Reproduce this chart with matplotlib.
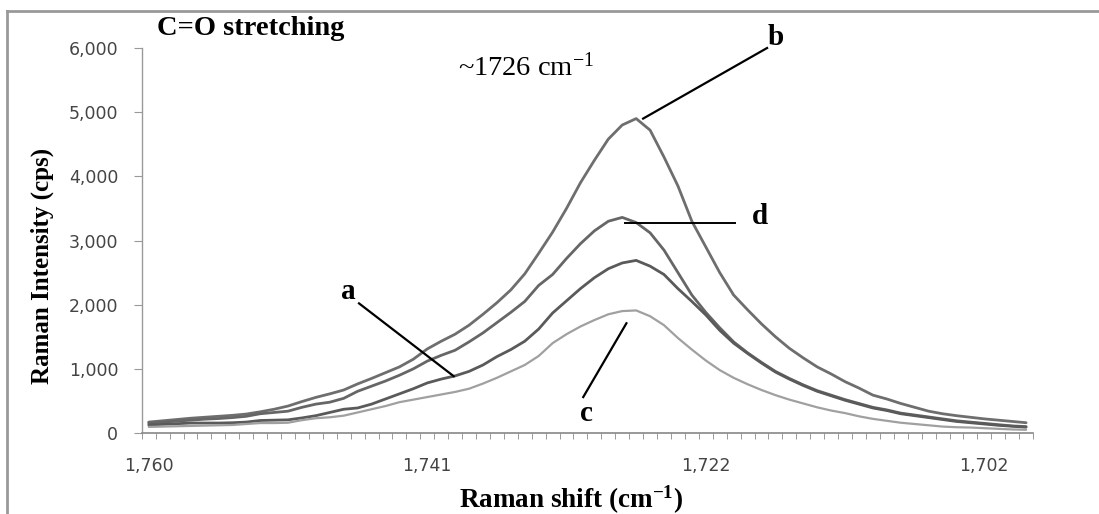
import numpy as np
import matplotlib
matplotlib.use("Agg")
import matplotlib.pyplot as plt
from matplotlib.lines import Line2D

plt.rcParams['mathtext.default'] = 'regular'

# Raman shift categories (cm-1), one point per category, labels every 20
shift = [1760 - 0.96 * k for k in range(64)]
label_idx = [0, 20, 40, 60]
label_txt = ['1,760', '1,741', '1,722', '1,702']

# intensities (cps)
b = [170, 190, 210, 230, 245, 260, 275, 295, 330, 370,
     420, 490, 555, 610, 670, 765, 850, 940, 1030, 1150,
     1310, 1430, 1540, 1680, 1850, 2030, 2230, 2480, 2800, 3130,
     3500, 3900, 4250, 4580, 4800, 4900, 4720, 4300, 3850, 3300,
     2900, 2500, 2150, 1920, 1700, 1500, 1320, 1170, 1030, 920,
     800, 700, 590, 530, 460, 400, 340, 300, 270, 245,
     220, 200, 180, 160]
d = [155, 170, 185, 200, 215, 225, 240, 260, 300, 320,
     340, 400, 450, 480, 540, 650, 730, 810, 900, 1000,
     1120, 1210, 1290, 1420, 1560, 1720, 1880, 2050, 2300, 2470,
     2720, 2950, 3150, 3300, 3360, 3280, 3120, 2850, 2500, 2150,
     1880, 1640, 1420, 1250, 1100, 960, 850, 750, 660, 590,
     520, 460, 400, 360, 310, 280, 250, 220, 190, 170,
     150, 130, 110, 100]
a = [125, 135, 145, 155, 155, 155, 160, 170, 195, 200,
     205, 235, 270, 320, 370, 390, 450, 530, 610, 690,
     780, 840, 890, 960, 1060, 1190, 1300, 1430, 1620, 1870,
     2060, 2250, 2420, 2560, 2650, 2690, 2600, 2470, 2250, 2050,
     1840, 1600, 1400, 1240, 1090, 950, 840, 740, 650, 580,
     510, 450, 390, 350, 300, 270, 240, 210, 180, 160,
     140, 120, 105, 90]
c = [95, 100, 105, 110, 115, 120, 125, 140, 155, 155,
     160, 200, 230, 245, 270, 320, 370, 420, 480, 520,
     560, 600, 640, 690, 770, 860, 960, 1060, 1200, 1400,
     1540, 1660, 1760, 1850, 1900, 1910, 1820, 1680, 1480, 1300,
     1130, 980, 860, 760, 670, 590, 520, 460, 400, 350,
     310, 260, 220, 190, 160, 140, 120, 100, 90, 85,
     75, 65, 55, 50]

fig = plt.figure(figsize=(10.99, 5.14), dpi=100)
ax = fig.add_axes([0.129, 0.1576, 0.811, 0.749])

x = np.arange(len(shift))
line_kw = dict(solid_joinstyle='round', solid_capstyle='round')
ax.plot(x, b, color='#6e6e6e', lw=2.0, **line_kw)
ax.plot(x, d, color='#666666', lw=2.0, **line_kw)
ax.plot(x, a, color='#5a5a5a', lw=2.0, **line_kw)
ax.plot(x, c, color='#a0a0a0', lw=1.6, **line_kw)

ax.set_xlim(-0.45, 63.2)
ax.set_ylim(0, 6000)

ax.set_yticks(range(0, 6001, 1000))
ax.set_yticklabels(['0', '1,000', '2,000', '3,000', '4,000', '5,000', '6,000'])
ax.set_xticks(label_idx)
ax.set_xticklabels(label_txt)
ax.set_xticks(np.arange(-0.5, 64, 1), minor=True)

ax.tick_params(axis='y', direction='out', length=6, width=0.8, color='#999999',
               labelsize=12.5, labelcolor='#444444', pad=11)
ax.tick_params(axis='x', which='major', length=0, labelsize=12.5,
               labelcolor='#444444', pad=17)
ax.tick_params(axis='x', which='minor', direction='out', length=4, width=0.7,
               color='#999999')

for s in ['top', 'right']:
    ax.spines[s].set_visible(False)
ax.spines['left'].set_color('#999999')
ax.spines['left'].set_linewidth(1.0)
ax.spines['bottom'].set_color('#888888')
ax.spines['bottom'].set_linestyle((0, (1, 1)))
ax.spines['bottom'].set_linewidth(1.2)

serif = 'Liberation Serif'

# leader lines and curve letters
ax.plot([44.4, 35.5], [6000, 4900], color='black', lw=1.6, clip_on=False)
ax.plot([34.2, 42.1], [3280, 3280], color='black', lw=1.4, clip_on=False)
ax.plot([15.1, 21.9], [2020, 885], color='black', lw=1.6, clip_on=False)
ax.plot([34.3, 31.2], [1710, 560], color='black', lw=1.6, clip_on=False)

letter_kw = dict(family=serif, fontsize=21, fontweight='bold',
                 ha='center', va='center', clip_on=False)
ax.text(45.0, 6170, 'b', **letter_kw)
ax.text(43.9, 3380, 'd', **letter_kw)
ax.text(14.3, 2200, 'a', **letter_kw)
ax.text(31.4, 300, 'c', **letter_kw)

fig.text(0.143, 0.945, 'C=O stretching', family=serif, fontsize=20.5,
         fontweight='bold', ha='left', va='center')
fig.text(0.417, 0.868, '~1726 cm$^{-1}$', family=serif, fontsize=20.5,
         ha='left', va='center')

fig.text(42 / 1099, 1 - 266 / 514, 'Raman Intensity (cps)', family=serif,
         fontsize=18, fontweight='bold', rotation=90, ha='center', va='center')
fig.text(571 / 1099, 1 - 500 / 514, 'Raman shift (cm$^{-1}$)', family=serif,
         fontsize=19.5, fontweight='bold', ha='center', va='center')

# outer frame (left and top edges visible)
fig.add_artist(Line2D([7 / 1099, 7 / 1099], [0, 1 - 11 / 514],
                      transform=fig.transFigure, color='#999999', lw=2))
fig.add_artist(Line2D([7 / 1099, 1], [1 - 11 / 514, 1 - 11 / 514],
                      transform=fig.transFigure, color='#999999', lw=2))

fig.savefig('out.png', dpi=100)
